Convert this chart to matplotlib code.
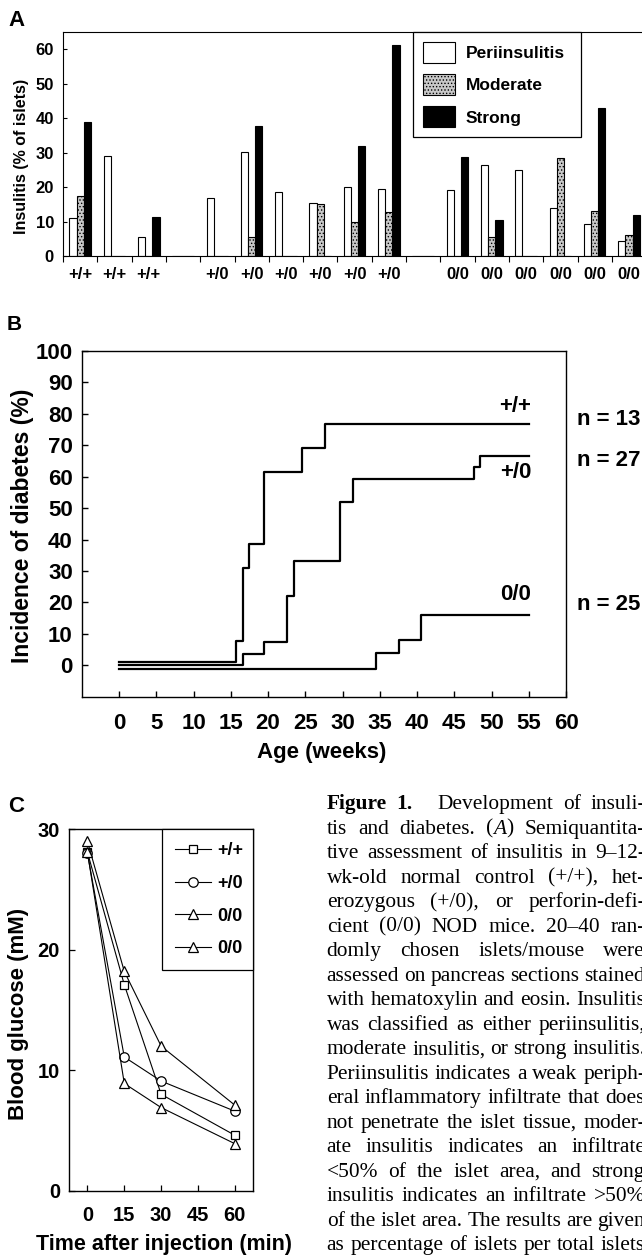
import re
import numpy as np
import matplotlib
matplotlib.use('Agg')
import matplotlib.pyplot as plt

plt.rcParams['font.family'] = ['Liberation Sans', 'DejaVu Sans']
plt.rcParams['font.weight'] = 'bold'
plt.rcParams['axes.labelweight'] = 'bold'
plt.rcParams['hatch.linewidth'] = 0.6

W, H = 642, 1256

# --- panel A: insulitis per mouse (% of islets)
slot_labels = ['+/+', '+/+', '+/+', '', '+/0', '+/0', '+/0', '+/0', '+/0', '+/0',
               '', '0/0', '0/0', '0/0', '0/0', '0/0', '0/0']
peri = [11.0, 28.9, 5.6, 0, 16.9, 30.2, 18.5, 15.3, 19.9, 19.3, 0, 19.1, 26.3, 25.1, 14.0, 9.2, 4.4]
moderate = [17.4, 0, 0, 0, 0, 5.4, 0, 15.1, 9.8, 12.9, 0, 0, 5.4, 0, 28.3, 13.1, 6.2]
strong = [39.0, 0, 11.2, 0, 0, 37.6, 0, 0, 31.9, 61.1, 0, 28.6, 10.5, 0, 0, 43.0, 12.0]

# --- panel B: cumulative incidence of diabetes
weeks_pp = [0, 15.7, 16.6, 17.5, 19.5, 24.6, 27.6, 55]
inc_pp = [0, 7.7, 30.8, 38.5, 61.5, 69.2, 76.9, 76.9]
weeks_p0 = [0, 16.6, 19.5, 22.5, 23.5, 29.6, 31.4, 47.6, 48.5, 55]
inc_p0 = [0, 3.7, 7.4, 22.2, 33.3, 51.9, 59.3, 63.0, 66.7, 66.7]
weeks_00 = [0, 34.5, 37.6, 40.5, 55]
inc_00 = [0, 4.0, 8.0, 16.0, 16.0]
curve_names = ['+/+', '+/0', '0/0']
curve_n = ['n = 13', 'n = 27', 'n = 25']

# --- panel C: blood glucose after insulin injection
time_min = [0, 15, 30, 60]
gluc_pp = [28.1, 17.1, 8.0, 4.6]
gluc_p0 = [28.0, 11.1, 9.1, 6.6]
gluc_00a = [29.0, 18.2, 12.0, 7.1]
gluc_00b = [28.1, 8.9, 6.9, 3.9]

caption = [
    "**Figure** **1.** Development of insuli-",
    "tis and diabetes. (_A_) Semiquantita-",
    "tive assessment of insulitis in 9–12-",
    "wk-old normal control (+/+), het-",
    "erozygous (+/0), or perforin-defi-",
    "cient (0/0) NOD mice. 20–40 ran-",
    "domly chosen islets/mouse were",
    "assessed on pancreas sections stained",
    "with hematoxylin and eosin. Insulitis",
    "was classified as either periinsulitis,",
    "moderate insulitis, or strong insulitis.",
    "Periinsulitis indicates a weak periph-",
    "eral inflammatory infiltrate that does",
    "not penetrate the islet tissue, moder-",
    "ate insulitis indicates an infiltrate",
    "<50% of the islet area, and strong",
    "insulitis indicates an infiltrate >50%",
    "of the islet area. The results are given",
    "as percentage of islets per total islets",
]


def fx(px):
    return px / W


def fy(py):
    return 1 - py / H


fig = plt.figure(figsize=(W / 100, H / 100), dpi=100)

# ================= A
axA = fig.add_axes([fx(63), fy(256), 583.1 / W, 224 / H])
x = np.arange(len(slot_labels))
bw = 0.21
axA.bar(x - bw, peri, bw, color='white', edgecolor='black', lw=0.8, label='Periinsulitis')
axA.bar(x, moderate, bw, color='#c8c8c8', edgecolor='black', lw=0.8, hatch='.....',
        label='Moderate')
axA.bar(x + bw, strong, bw, color='black', edgecolor='black', lw=0.8, label='Strong')
axA.set_xlim(-0.5, len(slot_labels) - 0.5)
axA.set_ylim(0, 65)
axA.set_yticks(range(0, 61, 10))
axA.set_xticks(x)
axA.set_xticklabels(slot_labels)
axA.set_xticks(np.arange(-0.5, len(slot_labels)), minor=True)
axA.tick_params(axis='x', which='major', length=0, pad=8, labelsize=12)
axA.tick_params(axis='x', which='minor', length=4, direction='out', width=0.8)
axA.tick_params(axis='y', direction='in', length=3, width=0.8, pad=6.5, labelsize=12)
for s in axA.spines.values():
    s.set_linewidth(0.8)
axA.spines['right'].set_visible(False)
axA.set_ylabel('Insulitis (% of islets)', fontsize=11.5)
axA.yaxis.set_label_coords(-0.059, 0.443)
legA = axA.legend(loc='upper left', bbox_to_anchor=(0.6003, 0, 0.2882, 1), mode='expand',
                  borderaxespad=0, fancybox=False, edgecolor='black', framealpha=1,
                  prop={'weight': 'bold', 'size': 12.5}, handlelength=1.84,
                  handleheight=1.48, labelspacing=0.66, borderpad=0.55, handletextpad=0.65)
legA.get_frame().set_linewidth(0.9)
fig.text(fx(8), fy(26), 'A', fontsize=16, fontweight='bold', ha='left', va='baseline')

# ================= B
axB = fig.add_axes([fx(81.8), fy(696.7), 484.4 / W, 345.7 / H])
offsets = [1.1, 0.0, -1.1]
for wk, inc, off in zip([weeks_pp, weeks_p0, weeks_00], [inc_pp, inc_p0, inc_00], offsets):
    inc = np.asarray(inc, dtype=float)
    axB.step(wk, np.where(inc == 0, inc + off, inc), where='post', color='black', lw=1.6)
axB.set_xlim(-5, 60)
axB.set_ylim(-10, 100)
axB.set_xticks(range(0, 61, 5))
axB.set_yticks(range(0, 101, 10))
axB.tick_params(axis='both', direction='in', length=4, width=1, labelsize=16)
axB.tick_params(axis='x', pad=12)
axB.tick_params(axis='y', pad=6.5)
for s in axB.spines.values():
    s.set_linewidth(1.0)
axB.set_xlabel('Age (weeks)', fontsize=16)
axB.xaxis.set_label_coords(0.495, -0.132)
axB.set_ylabel('Incidence of diabetes (%)', fontsize=16.5)
axB.yaxis.set_label_coords(-0.098, 0.495)
name_y = [82.2, 61.2, 22.4]
n_y = [78.2, 65.3, 19.3]
for name, ny, nlab, yy in zip(curve_names, name_y, curve_n, n_y):
    axB.text(55.3, ny, name, ha='right', va='center', fontsize=16, fontweight='bold')
    axB.text(61.5, yy, nlab, ha='left', va='center', fontsize=16, fontweight='bold',
             clip_on=False)
fig.text(fx(7), fy(330), 'B', fontsize=15, fontweight='bold', ha='left', va='baseline')

# ================= C
axC = fig.add_axes([fx(69), fy(1190.7), 184.3 / W, 361.4 / H])
series = [(gluc_pp, 's', 6.3, '+/+'), (gluc_p0, 'o', 6.8, '+/0'),
          (gluc_00a, '^', 7.2, '0/0'), (gluc_00b, '^', 7.2, '0/0')]
for vals, mk, ms, lab in series:
    axC.plot(time_min, vals, color='black', lw=0.8, marker=mk, ms=ms, mfc='white',
             mec='black', mew=0.9, label=lab)
axC.set_xlim(-7.5, 67.5)
axC.set_ylim(0, 30)
axC.set_xticks([0, 15, 30, 45, 60])
axC.set_yticks([0, 10, 20, 30])
axC.tick_params(axis='both', direction='in', length=4, width=0.9, labelsize=14.5)
axC.tick_params(axis='x', pad=11)
axC.tick_params(axis='y', pad=6.5)
for s in axC.spines.values():
    s.set_linewidth(1.0)
axC.set_xlabel('Time after injection (min)', fontsize=15.5)
axC.xaxis.set_label_coords(0.518, -0.12)
axC.set_ylabel('Blood glucose (mM)', fontsize=16)
axC.yaxis.set_label_coords(-0.217, 0.489)
legC = axC.legend(loc='upper left', bbox_to_anchor=(0.5024, 0, 0.4976, 1), mode='expand',
                  borderaxespad=0, fancybox=False, edgecolor='black', framealpha=1,
                  prop={'weight': 'bold', 'size': 13}, handlelength=2.0,
                  labelspacing=0.86, borderpad=0.73, handletextpad=0.35)
legC.get_frame().set_linewidth(0.9)
fig.text(fx(8), fy(812), 'C', fontsize=16, fontweight='bold', ha='left', va='baseline')

# ================= caption (justified, clipped at page edge)
cap_fs = 15.4
cap_x0, cap_x1 = 326.7, 645.0
cap_y0, cap_dy = 809.3, 24.5
renderer = fig.canvas.get_renderer()


def parse_word(word):
    parts = []
    for p in re.split(r'(\*\*[^*]+\*\*|_[^_]+_)', word):
        if not p:
            continue
        if p.startswith('**'):
            parts.append((p[2:-2], 'bold', 'normal'))
        elif p.startswith('_'):
            parts.append((p[1:-1], 'normal', 'italic'))
        else:
            parts.append((p, 'normal', 'normal'))
    return parts


for i, line in enumerate(caption):
    words = [parse_word(w) for w in line.split(' ')]
    placed = []
    total = 0.0
    for parts in words:
        texts = []
        for txt, wt, st in parts:
            t = fig.text(0, 0, txt, fontsize=cap_fs, family='Liberation Serif',
                         fontweight=wt, fontstyle=st, va='baseline', ha='left')
            w = t.get_window_extent(renderer).width
            texts.append((t, w))
            total += w
        placed.append(texts)
    extra = [0.0] * (len(words) - 1)
    if i == 0:
        extra[1] = 15.0
    gap = (cap_x1 - cap_x0 - total - sum(extra)) / max(len(words) - 1, 1)
    xpos = cap_x0
    ypos = cap_y0 + i * cap_dy
    for k, texts in enumerate(placed):
        for t, w in texts:
            t.set_position((fx(xpos), fy(ypos)))
            xpos += w
        if k < len(extra):
            xpos += gap + extra[k]

fig.savefig('out.png', dpi=100)
